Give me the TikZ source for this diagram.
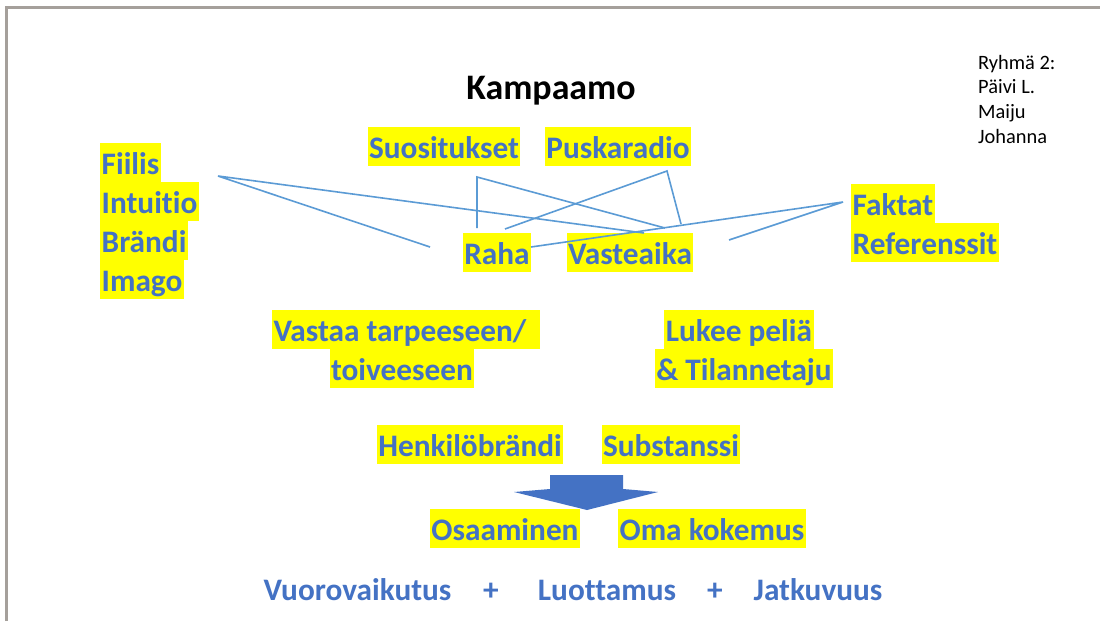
\documentclass[tikz,border=0pt]{standalone}
\usepackage{fontspec}
\setmainfont{Carlito}[Ligatures={NoCommon}]
\definecolor{txtblue}{RGB}{68,114,196}
\definecolor{lineblue}{RGB}{91,155,213}
\definecolor{hlyellow}{RGB}{255,255,0}
\definecolor{frame}{RGB}{165,160,155}
\begin{document}
\begin{tikzpicture}[x=1pt,y=-1pt,
  hl/.style={fill=hlyellow, text=txtblue, font=\fontsize{31.3}{39}\selectfont\bfseries,
    inner xsep=1.5pt, inner ysep=0pt, text height=31pt, text depth=8pt},
  plain/.style={text=txtblue, font=\fontsize{31.3}{39}\selectfont\bfseries, inner sep=0pt},
  conn/.style={draw=lineblue, line width=1.6pt},
  names/.style={font=\fontsize{20.4}{24.7}\selectfont, inner sep=0pt, anchor=base west}]
\useasboundingbox (0,0) rectangle (1100,621);
\fill[white] (0,0) rectangle (1100,621);
\draw[frame, line width=3pt] (6,621) -- (6,7) -- (1100,7);

% title and group
\node[font=\fontsize{35.9}{43}\selectfont\bfseries, inner sep=0pt, anchor=base] (title) at (551,99) {Kampaamo};
\node[names] (n1) at (978,69) {Ryhmä 2:};
\node[names] (n2) at (978,93.7) {Päivi L.};
\node[names] (n3) at (978,118.4) {Maiju};
\node[names] (n4) at (978,143) {Johanna};

% top row
\node[hl, anchor=base] (suos) at (444,158) {Suositukset};
\node[hl, anchor=base] (pusk) at (618,158) {Puskaradio};

% left list
\node[hl, anchor=base west] (fiilis) at (100,174) {Fiilis};
\node[hl, anchor=base west] (intu) at (100,213) {Intuitio};
\node[hl, anchor=base west] (brandi) at (100,252) {Brändi};
\node[hl, anchor=base west] (imago) at (100,291) {Imago};

% right list
\node[hl, anchor=base west] (faktat) at (851,215) {Faktat};
\node[hl, anchor=base west] (refs) at (851,254) {Referenssit};

% middle
\node[hl, anchor=base] (raha) at (497,264) {Raha};
\node[hl, anchor=base] (vaste) at (630,264) {Vasteaika};

% lines
\coordinate (cF) at (218,176);
\coordinate (cF1) at (430,247);
\coordinate (cF2) at (644,233);
\coordinate (cS) at (477,177);
\coordinate (cS1) at (477,228);
\coordinate (cS2) at (665,228);
\coordinate (cP) at (667,171);
\coordinate (cP1) at (505,229);
\coordinate (cP2) at (681,224);
\coordinate (cK) at (843,202);
\coordinate (cK1) at (531,247);
\coordinate (cK2) at (729,240);
\draw[conn] (cF1) -- (cF) -- (cF2);
\draw[conn] (cS1) -- (cS) -- (cS2);
\draw[conn] (cP1) -- (cP) -- (cP2);
\draw[conn] (cK1) -- (cK) -- (cK2);

% second block
\node[hl, anchor=base west] (vastaa) at (272,341) {Vastaa tarpeeseen/\kern12pt\relax};
\node[hl, anchor=base] (toive) at (402,380) {toiveeseen};
\node[hl, anchor=base] (lukee) at (739,341) {Lukee peliä};
\node[hl, anchor=base] (tilanne) at (744,380) {\& Tilannetaju};

% third block
\node[hl, anchor=base] (henk) at (470,456) {Henkilöbrändi};
\node[hl, anchor=base] (subst) at (671,456) {Substanssi};

% arrow
\fill[txtblue] (550,475) -- (623,475) -- (623,489) -- (658,492) -- (587,510) -- (514,492) -- (550,489) -- cycle;

\node[hl, anchor=base] (osaa) at (505,540) {Osaaminen};
\node[hl, anchor=base] (oma) at (712,540) {Oma kokemus};

% bottom
\node[plain, anchor=base] (vuoro) at (357.5,600) {Vuorovaikutus};
\node[plain, anchor=base] (plus1) at (491,600) {+};
\node[plain, anchor=base] (luot) at (607,600) {Luottamus};
\node[plain, anchor=base] (plus2) at (715,600) {+};
\node[plain, anchor=base] (jatk) at (818,600) {Jatkuvuus};
\end{tikzpicture}
\end{document}
